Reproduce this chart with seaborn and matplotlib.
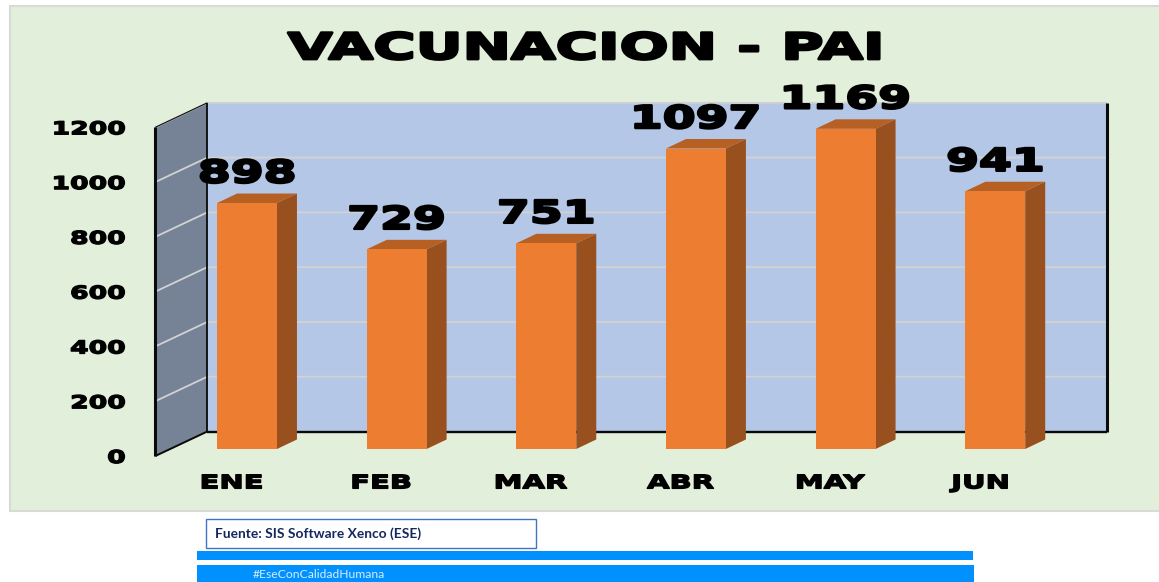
import matplotlib
matplotlib.use('Agg')
import matplotlib.pyplot as plt
import seaborn as sns
from matplotlib.patches import Polygon, Rectangle
from matplotlib.transforms import Affine2D
import matplotlib.patheffects as pe

months = ['ENE', 'FEB', 'MAR', 'ABR', 'MAY', 'JUN']
doses = [898, 729, 751, 1097, 1169, 941]
y_ticks = [0, 200, 400, 600, 800, 1000, 1200]

W, H = 1159, 582

sns.set_theme(style='white')
plt.rcParams['font.family'] = ['DejaVu Sans']

fig = plt.figure(figsize=(W / 100, H / 100), dpi=100, facecolor='white')


# The reference uses a very wide black font: widen DejaVu Bold while drawing it
class WideText(pe.AbstractPathEffect):
    def __init__(self, sx, lw, anchor='center'):
        super().__init__()
        self.sx, self.lw, self.anchor = sx, lw, anchor

    def draw_path(self, renderer, gc, tpath, affine, rgbFace=None):
        box = tpath.get_extents()
        ref = box.x1 if self.anchor == 'right' else (box.x0 + box.x1) / 2
        wide = Affine2D().translate(-ref, 0).scale(self.sx, 1).translate(ref, 0) + affine
        gc0 = renderer.new_gc()
        gc0.copy_properties(gc)
        gc0.set_linewidth(self.lw)
        gc0.set_foreground('black')
        renderer.draw_path(gc0, tpath, wide, rgbFace)
        gc0.restore()


# Figure helper: rectangles given in picture pixels (y going down)
def px_rect(x0, y0, x1, y1, **kw):
    fig.patches.append(Rectangle((x0 / W, 1 - y1 / H), (x1 - x0) / W, (y1 - y0) / H,
                                 transform=fig.transFigure, **kw))


# Green panel and the footer
px_rect(9.5, 5.5, 1162, 511, facecolor='#E2EFDA', edgecolor='#D9D9D9', linewidth=1.5)
px_rect(205.5, 518.5, 535.5, 547.5, facecolor='white', edgecolor='#4472C4', linewidth=1)
px_rect(197, 551, 973, 559.5, facecolor='#0091FF', edgecolor='none')
px_rect(197, 565, 974, 582, facecolor='#0091FF', edgecolor='none')

# Front plane of the fake 3D box
left, right, bottom, top = 155.3, 1054.7, 456, 127.3
ax = fig.add_axes([left / W, 1 - bottom / H, (right - left) / W, (bottom - top) / H])
ax.patch.set_alpha(0)
ax.set_zorder(2)

sns.barplot(x=months, y=doses, ax=ax, width=0.4, color='#ED7D31', saturation=1, zorder=5,
            edgecolor='none', linewidth=0)
ax.set_xlim(-0.51, 5.5)
ax.set_ylim(0, 1200)
ax.set_yticks(y_ticks)
ax.set_xlabel('')
ax.set_ylabel('')
for s in ax.spines.values():
    s.set_visible(False)

ax.tick_params(axis='y', length=0, pad=21.6)
ax.tick_params(axis='x', length=0, pad=12.5)
for lab in ax.get_yticklabels():
    lab.set(fontsize=12.8, fontweight='bold', color='black',
            path_effects=[WideText(1.5, 1.0, anchor='right')])
for lab in ax.get_xticklabels():
    lab.set(fontsize=13.5, fontweight='bold', color='black', path_effects=[WideText(1.55, 1.0)])

# Depth of the box and of the bars, in pixels
box_dx, box_dy = 52, 24.5
bar_dx, bar_dy = 15.4, 7
depth_dx, depth_dy = 20, 9.5

fig.canvas.draw()
to_px = ax.transData
box_tf = to_px + Affine2D().translate(box_dx, box_dy)
bar_tf = to_px + Affine2D().translate(bar_dx, bar_dy)

# Walls
xlo, xhi = ax.get_xlim()
ax.add_patch(Rectangle((xlo, 0), xhi - xlo, 1200, transform=box_tf, facecolor='#B4C7E7',
                       edgecolor='none', clip_on=False, zorder=1))
p0 = to_px.transform([(xlo, 0), (xlo, 1200)])
wall = [p0[0], p0[1], p0[1] + (box_dx, box_dy), p0[0] + (box_dx, box_dy)]
ax.add_patch(Polygon(wall, closed=True, transform=None, facecolor='#768397', edgecolor='none',
                     clip_on=False, zorder=1))

# Grid lines, on the side wall then along the back wall
for v in y_ticks[1:]:
    a = to_px.transform((xlo, v))
    b = a + (box_dx, box_dy)
    c = box_tf.transform((xhi, v))
    ax.plot([a[0], b[0], c[0]], [a[1], b[1], c[1]], transform=None, color='#D2D2D2', lw=1.3,
            clip_on=False, zorder=2)

# Box outline
edges = [
    ([p0[0], p0[1]], 2.2),
    ([p0[0], p0[0] + (box_dx, box_dy)], 1.4),
    ([p0[1], p0[1] + (box_dx, box_dy)], 0.8),
    ([p0[0] + (box_dx, box_dy), p0[1] + (box_dx, box_dy)], 1.3),
    ([box_tf.transform((xlo, 0)), box_tf.transform((xhi, 0))], 1.7),
    ([box_tf.transform((xhi, 0)), box_tf.transform((xhi, 1200))], 2.2),
]
for (a, b), lw in edges:
    ax.plot([a[0], b[0]], [a[1], b[1]], transform=None, color='#0A0A0A', lw=lw,
            clip_on=False, zorder=3, solid_capstyle='butt')

# Bars: move the seaborn faces forward and add their side and top
for i, bar in enumerate(ax.containers[0]):
    bar.set_transform(bar_tf)
    bar.set_clip_on(False)
    x0, x1 = bar.get_x(), bar.get_x() + bar.get_width()
    h = bar.get_height()
    bl, br, tr, tl = bar_tf.transform([(x0, 0), (x1, 0), (x1, h), (x0, h)])
    d = (depth_dx, depth_dy)
    ax.add_patch(Polygon([br, tr, tr + d, br + d], closed=True, transform=None,
                         facecolor='#97501E', edgecolor='none', clip_on=False, zorder=4))
    ax.add_patch(Polygon([tl, tr, tr + d, tl + d], closed=True, transform=None,
                         facecolor='#B66024', edgecolor='none', clip_on=False, zorder=4))
    ax.annotate(str(doses[i]), xy=(i, h), xycoords=bar_tf, xytext=(0, 29),
                textcoords='offset pixels', ha='center', va='center', fontsize=22.4,
                fontweight='bold', color='black', zorder=6, annotation_clip=False,
                path_effects=[WideText(1.52, 1.8)])

title = fig.text(585.5 / W, 1 - 49 / H, 'VACUNACION - PAI', ha='center', va='center',
                 fontsize=26, fontweight='bold', color='black',
                 path_effects=[WideText(1.6, 2.0)])
title.set_zorder(3)

# Footer text
fig.text(215 / W, 1 - 533.5 / H, 'Fuente: SIS Software Xenco (ESE)', ha='left', va='center',
         fontsize=9.9, fontweight='bold', family='Lato', color='#14285F')
fig.text(253 / W, 1 - 575 / H, '#EseConCalidadHumana', ha='left', va='center', fontsize=8.75,
         family='Lato', color='#D5ECFF')

fig.savefig('out.png', dpi=100)
